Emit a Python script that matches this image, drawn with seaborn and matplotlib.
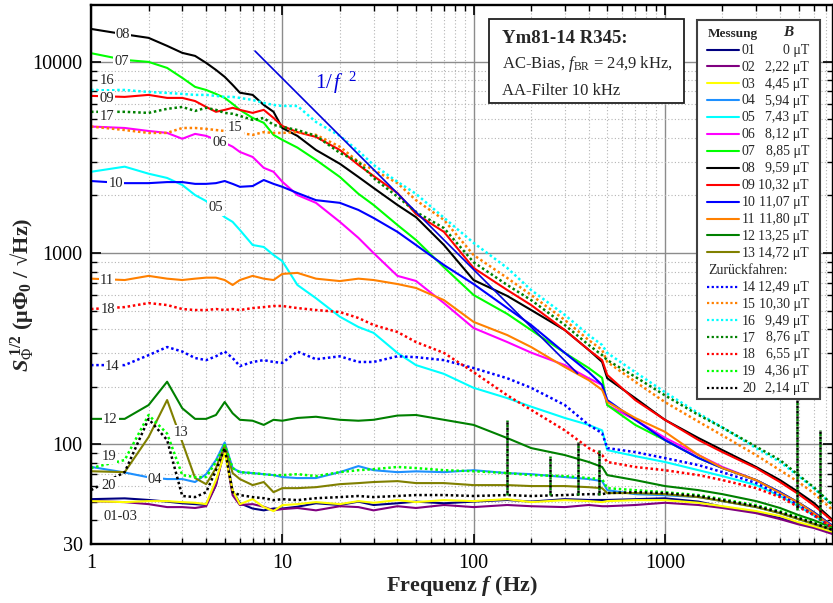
import matplotlib
matplotlib.use("Agg")
import matplotlib.pyplot as plt
import matplotlib.transforms as mtransforms
from matplotlib.patches import Rectangle
from matplotlib.lines import Line2D
from matplotlib.ticker import FixedLocator, FixedFormatter, NullFormatter
import pandas as pd
import seaborn as sns

sns.set_theme(style="white")
plt.rcParams["font.family"] = ["Liberation Serif", "DejaVu Serif"]
plt.rcParams["mathtext.fontset"] = "custom"
plt.rcParams["mathtext.rm"] = "Liberation Serif"
plt.rcParams["mathtext.it"] = "Liberation Serif:italic"
plt.rcParams["mathtext.bf"] = "Liberation Serif:bold"
plt.rcParams["mathtext.bfit"] = "Liberation Serif:bold:italic"

# ---------------------------------------------------------------- data
FREQ = [1, 1.5, 2, 2.5, 3, 3.5, 4, 4.5, 5, 5.5, 6, 7, 8, 9, 10, 12, 15, 20, 25, 30,
        40, 50, 70, 100, 150, 200, 300, 400, 470, 500, 700, 1000, 1500, 2000, 3000,
        4000, 5000, 6000, 7550]

S01 = [51.5, 52, 51, 50, 49, 48.5, 48, 61, 96, 57, 49, 46, 45, 46, 46, 47, 49, 48, 50, 48,
       49, 50, 49, 50, 51, 50, 51.5, 51, 51, 51, 51.5, 52, 50, 47, 44, 41, 38.5, 37, 34]
S02 = [50.3, 49.7, 48.5, 46.8, 46.8, 46.3, 47.3, 61, 95, 54, 48, 48.5, 47, 45, 45.7, 46.3, 45, 47.3, 46.8, 45,
       47.3, 46.3, 48, 46.8, 48, 47.3, 46.8, 48, 47.3, 47.3, 48, 49.3, 48, 46.3, 43.5, 40.5, 38, 36.4, 33.8]
S03 = [50.3, 49.7, 50.3, 50.3, 49.7, 49.3, 48.5, 64.8, 90, 57.4, 48.5, 51.5, 46.8, 44.6, 47.9, 48.5, 49.7, 48.5, 50.3, 49.3,
       50.9, 49.7, 50.9, 50.3, 51.5, 49.7, 50.9, 50.3, 49.7, 50.3, 50.9, 50.9, 49.3, 47.3, 44.6, 42, 39, 37.2, 34.7]
S04 = [76, 71, 67, 65.6, 65.6, 63.3, 69.6, 82.5, 102, 75, 71.3, 70.5, 69.6, 68.8, 67.2, 66.4, 66.4, 71.3, 76.7, 73,
       71.3, 72, 71.3, 73, 70.5, 69.6, 67.2, 65.6, 64, 57.4, 54.7, 54, 52.8, 50.3, 46.8, 43.5, 40.5, 38.2, 35.5]
S05 = [2660, 2830, 2600, 2470, 2270, 2010, 1870, 1680, 1540, 1455, 1320, 1101, 1075, 976, 907, 680, 580, 464, 410, 382,
       300, 259, 233, 197, 174, 157, 137, 126, 118, 93, 86.5, 80.6, 73, 68, 61, 53.5, 47.3, 42.5, 36.4]
S06 = [4590, 4510, 4350, 4250, 3960, 4200, 4100, 3910, 3770, 3600, 3380, 3180, 2790, 2660, 2360, 2010, 1830, 1455, 1200, 1000,
       759, 714, 547, 405, 342, 301, 259, 221, 204, 160, 134, 108, 87.6, 75.9, 64.8, 56, 49.3, 44, 37.2]
S07 = [11110, 10240, 10000, 9300, 8250, 7400, 7130, 6800, 6480, 6030, 5610, 5090, 4800, 4150, 3910, 3560, 3070, 2500, 2040, 1784,
       1401, 1170, 842, 603, 480, 395, 300, 250, 222, 160, 126, 105, 84.5, 74.9, 64.8, 56, 49.3, 44, 37.2]
S08 = [14880, 13940, 13360, 12130, 11150, 10750, 9880, 9080, 8350, 7580, 6900, 6720, 5955, 5480, 4510, 4100, 3460, 2930, 2500, 2190,
       1784, 1540, 1101, 722, 596, 503, 395, 311, 269, 221, 174, 134, 107.5, 93, 75.9, 64.8, 56, 49.3, 40]
S09 = [6640, 6560, 6720, 6480, 6480, 6240, 5810, 5480, 5610, 5750, 5610, 5410, 5610, 5090, 4620, 4290, 4050, 3460, 2890, 2530,
       2060, 1600, 1290, 835, 640, 534, 395, 311, 275, 230, 170, 134, 105, 90.8, 74.9, 63.3, 54.7, 47.9, 39.5]
S10 = [2380, 2320, 2320, 2350, 2350, 2300, 2300, 2320, 2380, 2300, 2220, 2240, 2410, 2300, 2220, 2060, 1890, 1830, 1680, 1525,
       1290, 1101, 865, 688, 515, 420, 300, 238, 204, 170, 134, 105, 84.5, 74.9, 64.8, 56, 49.3, 44, 37.2]
S11 = [734, 722, 759, 734, 722, 734, 743, 743, 722, 680, 722, 759, 734, 722, 777, 787, 734, 713, 734, 722,
       688, 656, 567, 436, 372, 322, 253, 216, 192, 166, 137, 116, 87.6, 74.9, 64.8, 55.4, 49.3, 43.5, 36.8]
S12 = [135.5, 135.5, 160, 212, 154, 135.5, 135.5, 142, 166, 145, 134, 132.5, 126, 134, 132.5, 137, 139, 134, 132.5, 134,
       141, 142, 134, 126, 107.5, 95.3, 87.6, 80.6, 75.9, 68.8, 64.8, 60.3, 57.4, 54.7, 50.3, 46.3, 42.5, 40, 36.4]
S13 = [72.1, 71.3, 108.8, 170, 102.4, 66.4, 61.7, 74.9, 98.8, 70.5, 65.6, 61, 63.3, 56, 58.8, 58.8, 59.5, 61.7, 62.5, 63.3,
       64, 62.5, 62.5, 61, 61, 60.3, 60.3, 59.5, 58.8, 55.4, 55.4, 54.7, 52.8, 50.3, 46.8, 43.5, 40.5, 38.2, 35.5]
S14 = [259, 259, 292, 322, 305, 282, 275, 288, 305, 282, 256, 269, 275, 269, 266, 305, 278, 288, 269, 269,
       288, 285, 275, 250, 221, 197, 160, 126, 114, 95.3, 90.8, 84.5, 77.6, 71.3, 62.5, 54.1, 47.9, 42.5, 36.4]
S15 = [4590, 4400, 4250, 4250, 4510, 4510, 4460, 4400, 4350, 4290, 4250, 4150, 4290, 4250, 4250, 4290, 4150, 3600, 3000, 2720,
       2320, 1890, 1490, 976, 740, 603, 446, 350, 311, 269, 212, 166, 131, 111, 87.6, 73, 63.3, 55.4, 45.1]
S16 = [7130, 7130, 6960, 6880, 6800, 6720, 6720, 6640, 6560, 6560, 6480, 6320, 6100, 5955, 5880, 5880, 4850, 4100, 3420, 2890,
       2360, 2040, 1530, 1130, 835, 640, 474, 372, 330, 300, 238, 187, 145, 122, 95.3, 80.6, 68, 58.8, 47.9]
S17 = [5480, 5480, 5410, 5680, 5810, 5540, 5750, 5610, 5410, 5350, 5220, 4970, 5090, 4680, 4570, 4400, 4100, 3340, 3000, 2470,
       1970, 1640, 1350, 895, 680, 567, 420, 330, 292, 275, 225, 180, 142, 122, 97, 82.5, 68.8, 59.5, 47.9]
S18 = [509, 521, 547, 534, 509, 503, 503, 509, 503, 509, 503, 515, 521, 528, 528, 515, 503, 491, 457, 420,
       386, 342, 300, 238, 180, 151, 118, 95.3, 87.6, 80.6, 75.9, 73, 68.8, 64.8, 58.8, 52.8, 46.8, 42.5, 36.4]
S19 = [74.9, 82.5, 142, 113.5, 68.8, 67.2, 67.2, 80.6, 98.8, 74.9, 71.3, 70.5, 69.6, 68.8, 68.8, 69.6, 68, 71.3, 73, 73.9,
       75.9, 74.9, 73, 72.1, 70.5, 68.8, 68, 66.4, 65.6, 58.8, 57.4, 56, 54.1, 51.5, 47.9, 44.6, 41.5, 39, 36]
S20 = [57.4, 71.3, 135.5, 105, 53.5, 52.8, 56, 73, 95.3, 56, 54.1, 52.8, 52.1, 50.9, 51.5, 50.9, 52.1, 52.8, 53.5, 52.8,
       53.5, 54.1, 54.1, 53.5, 54.1, 53.5, 54.1, 54.7, 54.7, 55.4, 56, 55.4, 53.5, 50.9, 47.3, 44, 41, 38.6, 35.5]

# mains-harmonic spikes in the noise floor of the return sweep
SPIKE_F = [150, 250, 350, 450, 4900, 6450]
SPIKE_LOW = [54, 54, 54, 54, 45, 40]
SPIKE_HIGH = [134, 87, 102, 93, 170, 118]

# 1/f^2 (power) reference slope
REF_F = [7.2, 350]
REF_S = [11400, 234]

MEAS = ["01", "02", "03", "04", "05", "06", "07", "08", "09", "10",
        "11", "12", "13", "14", "15", "16", "17", "18", "19", "20"]
B_UT = ["0", "2,22", "4,45", "5,94", "7,43", "8,12", "8,85", "9,59", "10,32", "11,07",
        "11,80", "13,25", "14,72", "12,49", "10,30", "9,49", "8,76", "6,55", "4,36", "2,14"]
COLORS = ["#000080", "#800080", "#ffff00", "#1e90ff", "#00ffff", "#ff00ff", "#00ff00",
          "#000000", "#ff0000", "#0000ff", "#ff8000", "#008000", "#808000",
          "#0000ff", "#ff8000", "#00ffff", "#008000", "#ff0000", "#00ff00", "#000000"]
SERIES = [S01, S02, S03, S04, S05, S06, S07, S08, S09, S10,
          S11, S12, S13, S14, S15, S16, S17, S18, S19, S20]

CURVE_LABELS = [("08", 1.47, 13940), ("07", 1.45, 10000), ("16", 1.21, 7960),
                ("09", 1.21, 6400), ("17", 1.21, 5150), ("15", 5.66, 4510),
                ("06", 4.72, 3770), ("10", 1.35, 2320), ("05", 4.5, 1720),
                ("11", 1.21, 722), ("18", 1.23, 509), ("14", 1.29, 256),
                ("12", 1.26, 135), ("19", 1.24, 86.5), ("13", 2.95, 115),
                ("20", 1.23, 61), ("04", 2.16, 65.6), ("01-03", 1.42, 42)]

# ---------------------------------------------------------------- figure
W, H = 833, 603
fig = plt.figure(figsize=(W / 100, H / 100), dpi=100)
ax = fig.add_axes([91 / W, 1 - 544 / H, (W - 91) / W, (544 - 5) / H])
ax.set_xscale("log")
ax.set_yscale("log")

SOLID = "-"
DOTTED = (0, (1, 1.1))

for i, (vals, col) in enumerate(zip(SERIES, COLORS)):
    df = pd.DataFrame({"f": FREQ, "S": vals})
    sns.lineplot(data=df, x="f", y="S", ax=ax, color=col,
                 linestyle=SOLID if i < 13 else DOTTED,
                 linewidth=1.5 if i < 13 else 1.8,
                 estimator=None, sort=False, legend=False, zorder=2 + i * 0.01)

ax.vlines(SPIKE_F, SPIKE_LOW, SPIKE_HIGH, colors="#008000", linestyles=DOTTED,
          linewidth=1.8, zorder=2.5)
ax.vlines(SPIKE_F, SPIKE_LOW, SPIKE_HIGH, colors="#000000", linestyles=(1.1, (1, 1.1)),
          linewidth=1.8, zorder=2.5)

sns.lineplot(x=REF_F, y=REF_S, ax=ax, color="#0000dd", linewidth=1.2,
             estimator=None, legend=False, zorder=3)
ax.text(19.1, 7760, r"$1/\,\mathit{f}^{\ \ 2}$", color="#0000dd", fontsize=15,
        ha="center", va="center", zorder=4)

for txt, fx, fy in CURVE_LABELS:
    ax.text(fx, fy, txt, fontsize=10.5, ha="center", va="center", zorder=5,
            bbox=dict(boxstyle="square,pad=0.08", fc="white", ec="none"))

ax.set_xlim(1, 7570)
ax.set_ylim(30, 19850)

ax.xaxis.set_major_locator(FixedLocator([1, 10, 100, 1000]))
ax.xaxis.set_major_formatter(FixedFormatter(["1", "10", "100", "1000"]))
xminor = [m * d for d in (1, 10, 100, 1000) for m in range(2, 10) if m * d < 7570]
ax.xaxis.set_minor_locator(FixedLocator(xminor))
ax.xaxis.set_minor_formatter(NullFormatter())
ax.yaxis.set_major_locator(FixedLocator([30, 100, 1000, 10000]))
ax.yaxis.set_major_formatter(FixedFormatter(["30", "100", "1000", "10000"]))
yminor = [m * d for d in (10, 100, 1000, 10000) for m in range(2, 10) if 30 < m * d < 19850]
ax.yaxis.set_minor_locator(FixedLocator(yminor))
ax.yaxis.set_minor_formatter(NullFormatter())

ax.grid(which="major", color="#8c8c8c", linewidth=1.0, linestyle="-", zorder=0)
ax.grid(which="minor", color="#b4b4b4", linewidth=0.8, linestyle=(0, (1, 2)), zorder=0)
ax.set_axisbelow(True)

ax.tick_params(which="both", direction="in", top=True, right=True, bottom=True, left=True,
               colors="black", labelsize=14.5)
ax.tick_params(which="major", length=7, width=1.2, pad=6)
ax.tick_params(which="minor", length=4, width=1.0)
ax.tick_params(axis="x", which="major", pad=7)
for sp in ax.spines.values():
    sp.set_color("black")
    sp.set_linewidth(1.7)

ax.set_xlabel(r"Frequenz $\mathbfit{f}$ (Hz)", fontsize=16, fontweight="bold", labelpad=1)
ax.set_ylabel(r"$\mathbfit{S}_{\mathit{\Phi}}^{\ \mathbf{1/2}}$ ($\mathbf{\mu\Phi_0}$ / √Hz)",
              fontsize=16, fontweight="bold")
ax.yaxis.set_label_coords(-0.073, 0.462)

# ---------------------------------------------------------------- annotation boxes (pixel layout)
T = mtransforms.Affine2D().scale(1 / W, -1 / H).translate(0, 1) + fig.transFigure

fig.add_artist(Rectangle((489, 19), 195, 84, transform=T, facecolor="white",
                         edgecolor="#202020", linewidth=1.3, zorder=10))
fig.text(502, 43, "Ym81-14 R345:", transform=T, fontsize=13.5, fontweight="bold",
         va="baseline", zorder=11)
fig.text(502, 68, r"AC-Bias, $f_{\mathrm{BR}}$ = 24,9 kHz,", transform=T, fontsize=12,
         va="baseline", zorder=11)
fig.text(502, 95, "AA-Filter 10 kHz", transform=T, fontsize=12, va="baseline", zorder=11)

fig.add_artist(Rectangle((697, 20), 123, 379, transform=T, facecolor="white",
                         edgecolor="#404040", linewidth=1.5, zorder=10))
fig.text(708, 36.5, "Messung", transform=T, fontsize=9.5, fontweight="bold",
         va="baseline", zorder=11)
fig.text(789, 36.5, r"$\mathbfit{B}$", transform=T, fontsize=11, ha="center",
         va="baseline", zorder=11)
fig.text(708, 274, "Zurückfahren:", transform=T, fontsize=10, va="baseline", zorder=11)

for i, (m, b, col) in enumerate(zip(MEAS, B_UT, COLORS)):
    y = 49.5 + i * 16.9 if i < 13 else 286.5 + (i - 13) * 16.9
    fig.add_artist(Line2D([707, 739], [y, y], transform=T, color=col,
                          linewidth=1.5 if i < 13 else 1.6,
                          linestyle=SOLID if i < 13 else DOTTED, zorder=11))
    fig.text(742, y + 4.3, m, transform=T, fontsize=10, va="baseline", zorder=11)
    fig.text(809, y + 4.3, f"{b} μT", transform=T, fontsize=10, ha="right",
             va="baseline", zorder=11)

fig.savefig("out.png", dpi=100)
